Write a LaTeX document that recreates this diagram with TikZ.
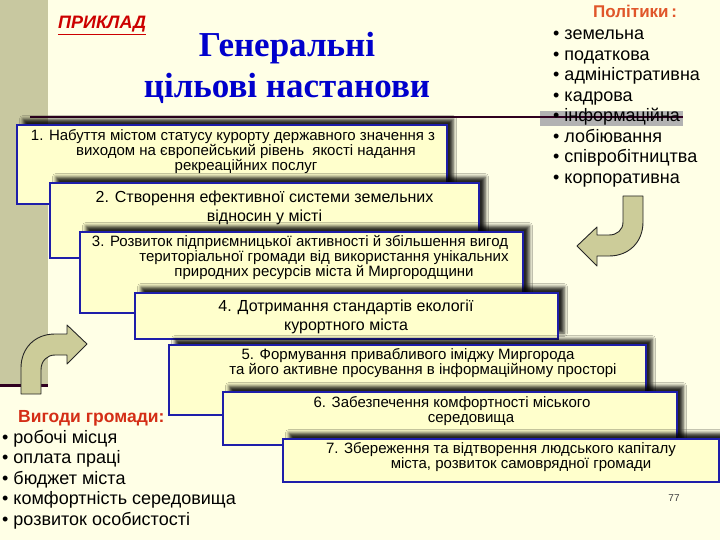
\documentclass[tikz,border=0pt]{standalone}
\usepackage{fontspec}
\setmainfont{Liberation Sans}
\newfontfamily\titlefont{Liberation Serif}
\usetikzlibrary{shadows.blur}
\definecolor{bg}{HTML}{FFFFE6}
\definecolor{boxfill}{HTML}{FFFFCC}
\definecolor{boxblue}{HTML}{1E1EAA}
\definecolor{strip}{HTML}{C8C8A0}
\definecolor{arrowfill}{HTML}{CCCC99}
\definecolor{darkline}{HTML}{300020}
\definecolor{titleblue}{HTML}{0000CC}
\definecolor{polred}{HTML}{E0562A}
\definecolor{vygred}{HTML}{D42E16}
\definecolor{exred}{HTML}{CC0000}
\newcommand\mlines[1]{\vtop{\let\\\cr\halign{\hfil##\hfil\cr#1\crcr}}}
\tikzset{
  goalbox/.style={draw=boxblue, line width=1.6pt, fill=boxfill, anchor=north west,
    inner sep=0pt, outer sep=0pt,
    blur shadow={shadow xshift=6pt, shadow yshift=6pt, shadow blur radius=3.5pt, shadow opacity=85}},
  btext/.style={inner sep=0pt, anchor=base},
  bigtext/.style={btext, font=\fontsize{16}{19}\selectfont},
  smalltext/.style={btext, font=\fontsize{15}{15}\selectfont},
  tinytext/.style={btext, font=\fontsize{15}{15}\selectfont},
  listitem/.style={anchor=base west, inner sep=0pt, font=\fontsize{18}{20}\selectfont},
  curvedarrow/.style={fill=arrowfill, draw=black!85, line width=0.9pt, line join=round}
}
\begin{document}
\begin{tikzpicture}[x=1pt,y=-1pt]
\useasboundingbox (0,0) rectangle (720,540);
\fill[bg] (0,0) rectangle (720,540);
% left strip
\fill[strip] (0,0) rectangle (48,384);
\draw[darkline, line width=3pt] (0,385) -- (48,385);
% highlight and horizontal rule
\fill[black!30] (540,111) rectangle (683,126);
\draw[darkline, line width=1.8pt] (30,117) -- (683,117);

% header texts
\node[anchor=base west, inner sep=0pt, text=exred, font=\fontsize{18}{20}\selectfont\bfseries\itshape] (ex) at (58,29) {\underline{ПРИКЛАД}};
\node[anchor=base, inner sep=0pt, text=titleblue, font=\fontsize{35}{40}\selectfont\titlefont\bfseries] (title1) at (287,57) {Генеральні};
\node[anchor=base, inner sep=0pt, text=titleblue, font=\fontsize{35}{40}\selectfont\titlefont\bfseries] (title2) at (287,98) {цільові настанови};

% policies
\node[anchor=base west, inner sep=0pt, text=polred, font=\fontsize{17}{19}\selectfont\bfseries] (polt) at (593,18) {Політики\,:};
\foreach \t [count=\i] in {земельна, податкова, адміністративна, кадрова, інформаційна, лобіювання, співробітництва, корпоративна}
  \node[listitem] (p\i) at (553,{40+20.5*(\i-1)}) {• \t};

% benefits
\node[anchor=base west, inner sep=0pt, text=vygred, font=\fontsize{17.5}{19}\selectfont\bfseries] (vyg) at (18,422) {Вигоди громади:};
\foreach \t [count=\i] in {робочі місця, оплата праці, бюджет міста, комфортність середовища, розвиток особистості}
  \node[listitem] (v\i) at (2,{443+20.5*(\i-1)}) {• \t};

% goal boxes
\node[goalbox, minimum width=430pt, minimum height=79pt] (b1) at (17,125) {};
\node[smalltext] (t1) at (233,141) {\mlines{1. Набуття містом статусу курорту державного значення з\\ \hspace*{26pt}виходом на європейський рівень\ \ якості надання\\ \hspace*{26pt}рекреаційних послуг}};

\node[goalbox, minimum width=429pt, minimum height=75pt] (b2) at (50,183) {};
\node[bigtext] (t2) at (264.5,203) {\mlines{2. Створення ефективної системи земельних\\ відносин у місті}};

\node[goalbox, minimum width=443pt, minimum height=81pt] (b3) at (80,232) {};
\node[smalltext] (t3) at (300,247) {\mlines{3. Розвиток підприємницької активності й збільшення вигод\\ \hspace*{48pt}територіальної громади від використання унікальних\\ \hspace*{48pt}природних ресурсів міста й Миргородщини}};

\node[goalbox, minimum width=423pt, minimum height=46pt] (b4) at (135,293) {};
\node[bigtext, font=\fontsize{16}{18.3}\selectfont] (t4) at (346,311.7) {\mlines{4. Дотримання стандартів екології\\ курортного міста}};

\node[goalbox, minimum width=477pt, minimum height=70pt] (b5) at (169,345) {};
\node[tinytext] (t5) at (408,359) {\mlines{5. Формування привабливого іміджу Миргорода\\ \hspace*{30pt}та його активне просування в інформаційному просторі}};

\node[goalbox, minimum width=454pt, minimum height=53pt] (b6) at (223,392) {};
\node[tinytext] (t6) at (452,407) {\mlines{6. Забезпечення комфортності міського\\ \hspace*{38pt}середовища}};

\node[goalbox, minimum width=436pt, minimum height=43pt] (b7) at (283,439) {};
\node[tinytext] (t7) at (501,453.5) {\mlines{7. Збереження та відтворення людського капіталу\\ \hspace*{40pt}міста, розвиток самоврядної громади}};

% page number
\node[anchor=base, inner sep=0pt, text=black!75, font=\fontsize{10}{12}\selectfont] (pg) at (674,501) {77};

% curved arrows
\draw[curvedarrow] (21,394) -- (21,368) .. controls (21,348) and (35,334) .. (55,334) -- (67,334) -- (67,325) -- (87,344) -- (67,364) -- (67,355) -- (55,355) .. controls (47,355) and (41,361) .. (41,370) -- (41,394) -- cycle;
\draw[curvedarrow] (623,196) -- (623,222) .. controls (623,230) and (617,235) .. (609,235) -- (597,235) -- (597,227) -- (577,246) -- (597,266) -- (597,256) -- (609,256) .. controls (629,256) and (643,242) .. (643,222) -- (643,196) -- cycle;
\end{tikzpicture}
\end{document}
